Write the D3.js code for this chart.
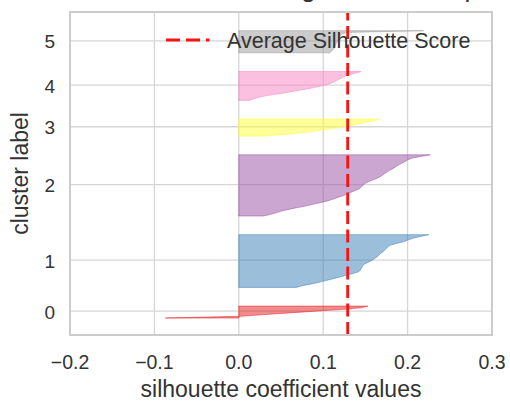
<!DOCTYPE html>
<html>
<head>
<meta charset="utf-8">
<script src="https://cdn.jsdelivr.net/npm/d3@7"></script>
<style>
  body { margin: 0; background: #fff; overflow: hidden; }
  svg { display: block; overflow: hidden; }
  text { font-family: "Liberation Sans", Arial, sans-serif; fill: #333; }
</style>
</head>
<body>
<svg id="chart" width="510" height="405"></svg>
<script>
// Sorted silhouette coefficients for each cluster (ascending, bottom to top)
const clusterLabels = [0, 1, 2, 3, 4, 5];
const cluster0 = [-0.087, 0.002, 0.03, 0.06, 0.09, 0.12, 0.145, 0.153];
const cluster1 = [0.068, 0.075, 0.086, 0.095, 0.103, 0.111, 0.119, 0.126, 0.134, 0.141,
                  0.144, 0.145, 0.146, 0.147, 0.150, 0.154, 0.158, 0.161, 0.164, 0.166,
                  0.168, 0.171, 0.173, 0.175, 0.177, 0.180, 0.188, 0.196, 0.201, 0.207,
                  0.215, 0.225];
const cluster2 = [0.029, 0.038, 0.045, 0.051, 0.060, 0.070, 0.080, 0.089, 0.098, 0.106,
                  0.112, 0.118, 0.124, 0.128, 0.133, 0.138, 0.143, 0.145, 0.147, 0.149,
                  0.153, 0.158, 0.163, 0.167, 0.170, 0.173, 0.176, 0.179, 0.183, 0.186,
                  0.189, 0.193, 0.197, 0.200, 0.205, 0.215, 0.227];
const cluster3 = [0.03, 0.055, 0.075, 0.09, 0.105, 0.118, 0.13, 0.14, 0.15, 0.16, 0.167];
const cluster4 = [0.012, 0.018, 0.025, 0.035, 0.05, 0.06, 0.072, 0.084, 0.093, 0.102,
                  0.109, 0.113, 0.117, 0.121, 0.125, 0.130, 0.138, 0.145];
const cluster5 = [0.108, 0.110, 0.112, 0.113, 0.114, 0.115, 0.116, 0.117, 0.118, 0.119,
                  0.120, 0.122, 0.128, 0.219];
const clusterValues = [cluster0, cluster1, cluster2, cluster3, cluster4, cluster5];
const silhouetteAvg = 0.129;
const xTickValues = [-0.2, -0.1, 0.0, 0.1, 0.2, 0.3];
const xTickLabels = ["\u22120.2", "\u22120.1", "0.0", "0.1", "0.2", "0.3"];
const titleText = "Silhouette Plot of KMeans Clustering for 120 Samples in 6 Centers";
const xLabelText = "silhouette coefficient values";
const yLabelText = "cluster label";
const legendText = "Average Silhouette Score";

const palette = ["#e41a1c", "#377eb8", "#984ea3", "#ffff33", "#f781bf", "#999999"];

const plot = { left: 70, right: 492, top: 12, bottom: 335 };
const svg = d3.select("#chart");

// Stack clusters vertically with a 10-sample gap, as in a silhouette plot
const gap = 10;
let yLower = gap;
const layout = clusterValues.map((vals, i) => {
  const start = yLower;
  const pts = vals.map((v, j) => ({ u: start + j, v }));
  const tick = start + vals.length / 2;
  yLower = start + vals.length + gap;
  return { label: clusterLabels[i], pts, tick };
});
const nSamples = d3.sum(clusterValues, d => d.length);
const yMax = nSamples + (clusterValues.length + 1) * gap;

const x = d3.scaleLinear().domain([-0.2, 0.3]).range([plot.left, plot.right]);
const y = d3.scaleLinear().domain([0, yMax]).range([plot.bottom, plot.top]);

// Title, set high so that it runs off the top edge
svg.append("text")
  .attr("x", 276).attr("y", -3)
  .attr("text-anchor", "middle")
  .style("font-size", "26px")
  .text(titleText);

// Grid
const grid = svg.append("g");
grid.selectAll("line.gx").data(xTickValues).join("line")
  .attr("x1", d => x(d)).attr("x2", d => x(d))
  .attr("y1", plot.top).attr("y2", plot.bottom)
  .attr("stroke", "#d6d6d6").attr("stroke-width", 1.3);
grid.selectAll("line.gy").data(layout).join("line")
  .attr("x1", plot.left).attr("x2", plot.right)
  .attr("y1", d => y(d.tick)).attr("y2", d => y(d.tick))
  .attr("stroke", "#d6d6d6").attr("stroke-width", 1.3);

// Silhouette fills
const area = d3.area()
  .y(d => y(d.u))
  .x0(x(0))
  .x1(d => x(d.v));
svg.append("g").selectAll("path").data(layout).join("path")
  .attr("d", d => area(d.pts))
  .attr("fill", (d, i) => palette[i]).attr("fill-opacity", 0.5)
  .attr("stroke", (d, i) => palette[i]).attr("stroke-opacity", 0.5)
  .attr("stroke-width", 1);

// Average silhouette score line
svg.append("line")
  .attr("x1", x(silhouetteAvg)).attr("x2", x(silhouetteAvg))
  .attr("y1", plot.bottom).attr("y2", plot.top)
  .attr("stroke", "#ff1010").attr("stroke-width", 2.8)
  .attr("stroke-dasharray", "13,5.5");

// Frame
svg.append("rect")
  .attr("x", plot.left).attr("y", plot.top)
  .attr("width", plot.right - plot.left).attr("height", plot.bottom - plot.top)
  .attr("fill", "none").attr("stroke", "#cccccc").attr("stroke-width", 2);

// Legend
const lg = svg.append("g");
lg.append("line")
  .attr("x1", 166).attr("x2", 209.5).attr("y1", 40).attr("y2", 40)
  .attr("stroke", "#ff1010").attr("stroke-width", 2.8)
  .attr("stroke-dasharray", "14,6");
lg.append("text")
  .attr("x", 227).attr("y", 48)
  .style("font-size", "21.5px")
  .text(legendText);

// X tick labels
svg.append("g").selectAll("text").data(xTickValues).join("text")
  .attr("x", d => x(d)).attr("y", 369)
  .attr("text-anchor", "middle")
  .style("font-size", "19.5px")
  .text((d, i) => xTickLabels[i]);

// Y tick labels
svg.append("g").selectAll("text").data(layout).join("text")
  .attr("x", 55).attr("y", d => y(d.tick) + 7.5)
  .attr("text-anchor", "end")
  .style("font-size", "19px")
  .text(d => d.label);

// Axis labels
svg.append("text")
  .attr("x", (plot.left + plot.right) / 2).attr("y", 397)
  .attr("text-anchor", "middle")
  .style("font-size", "23px")
  .text(xLabelText);
svg.append("text")
  .attr("transform", `translate(28,${(plot.top + plot.bottom) / 2}) rotate(-90)`)
  .attr("text-anchor", "middle")
  .style("font-size", "23px")
  .text(yLabelText);
</script>
</body>
</html>
